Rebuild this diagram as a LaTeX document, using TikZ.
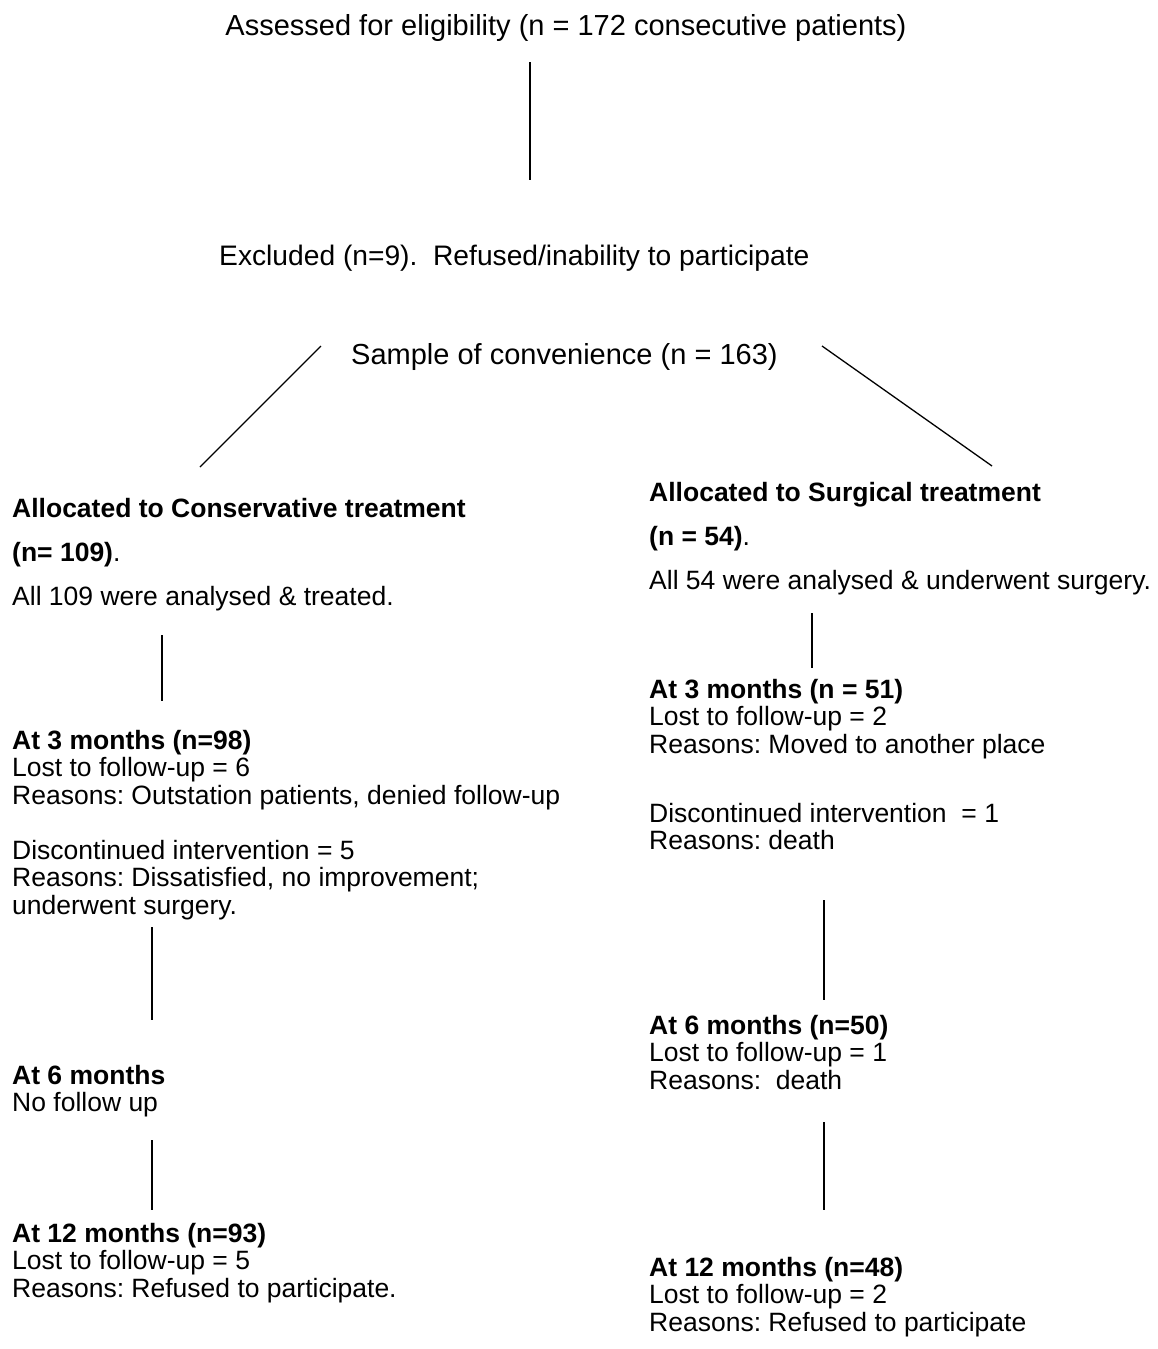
\documentclass[tikz,border=0pt]{standalone}
\usepackage{fontspec}
\setmainfont{Liberation Sans}
\frenchspacing
\newcommand\fstrut{\rule{0pt}{20pt}}
\begin{document}
\begin{tikzpicture}[x=1pt,y=-1pt,
  toptext/.style={inner sep=0pt, font=\fontsize{29}{33}\selectfont},
  blk/.style={anchor=north west, inner sep=0pt, align=left, font=\fontsize{26.5}{27.5}\selectfont},
  headblk/.style={anchor=north west, inner sep=0pt, align=left, font=\fontsize{26.5}{44}\selectfont},
  conn/.style={line width=1.3pt, black}]
\useasboundingbox[fill=white] (0,0) rectangle (1157,1349);

% top texts
\node[toptext, anchor=base] (assessed) at (566,35) {Assessed for eligibility (n = 172 consecutive patients)};
\node[toptext, anchor=base west, font=\fontsize{28.2}{33}\selectfont] (excluded) at (219,265) {Excluded (n=9).\ \ Refused/inability to participate};
\node[toptext, anchor=base west] (sample) at (351,364) {Sample of convenience (n = 163)};

% allocation
\node[headblk] (cons) at (12,497) {\fstrut\textbf{Allocated to Conservative treatment}\\\textbf{(n= 109)}.\\All 109 were analysed \& treated.};
\node[headblk] (surg) at (649,481) {\fstrut\textbf{Allocated to Surgical treatment}\\\textbf{(n = 54)}.\\All 54 were analysed \& underwent surgery.};

% conservative follow-up
\node[blk] (c3) at (12,729) {\fstrut\textbf{At 3 months (n=98)}\\Lost to follow-up = 6\\Reasons: Outstation patients, denied follow-up\\[27.5pt]Discontinued intervention = 5\\Reasons: Dissatisfied, no improvement;\\underwent surgery.};
\node[blk] (c6) at (12,1064) {\fstrut\textbf{At 6 months}\\No follow up};
\node[blk] (c12) at (12,1222) {\fstrut\textbf{At 12 months (n=93)}\\Lost to follow-up = 5\\Reasons: Refused to participate.};

% surgical follow-up
\node[blk] (s3) at (649,678) {\fstrut\textbf{At 3 months (n = 51)}\\Lost to follow-up = 2\\Reasons: Moved to another place\\[41.5pt]Discontinued intervention\ \ = 1\\Reasons: death};
\node[blk] (s6) at (649,1014) {\fstrut\textbf{At 6 months (n=50)}\\Lost to follow-up = 1\\Reasons:\ \ death};
\node[blk] (s12) at (649,1256) {\fstrut\textbf{At 12 months (n=48)}\\Lost to follow-up = 2\\Reasons: Refused to participate};

% connector end points
\coordinate (t1) at (530,62);   \coordinate (t2) at (530,180);
\coordinate (dl1) at (321,346); \coordinate (dl2) at (200,467);
\coordinate (dr1) at (822,346); \coordinate (dr2) at (992,466);
\coordinate (cl1a) at (162,635); \coordinate (cl1b) at (162,701);
\coordinate (cl2a) at (152,927); \coordinate (cl2b) at (152,1020);
\coordinate (cl3a) at (152,1140); \coordinate (cl3b) at (152,1210);
\coordinate (sl1a) at (812,613); \coordinate (sl1b) at (812,668);
\coordinate (sl2a) at (824,900); \coordinate (sl2b) at (824,1000);
\coordinate (sl3a) at (824,1122); \coordinate (sl3b) at (824,1210);

\draw[conn] (t1) -- (t2);
\draw[conn] (dl1) -- (dl2);
\draw[conn] (dr1) -- (dr2);
\draw[conn] (cl1a) -- (cl1b);
\draw[conn] (cl2a) -- (cl2b);
\draw[conn] (cl3a) -- (cl3b);
\draw[conn] (sl1a) -- (sl1b);
\draw[conn] (sl2a) -- (sl2b);
\draw[conn] (sl3a) -- (sl3b);
\end{tikzpicture}
\end{document}
